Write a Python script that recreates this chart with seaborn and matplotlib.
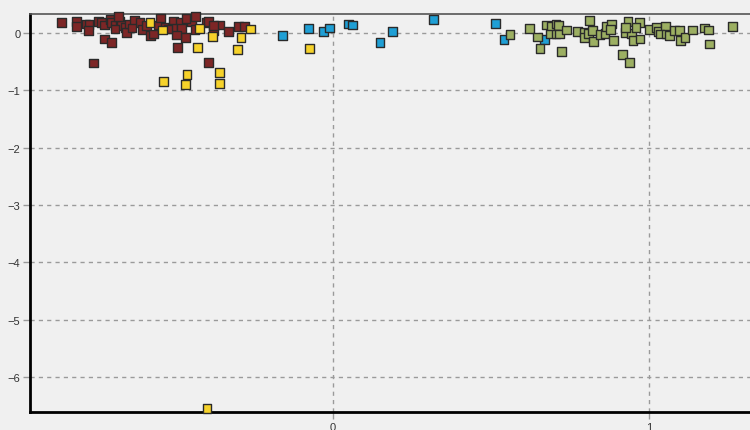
import numpy as np
import pandas as pd
import matplotlib
matplotlib.use("Agg")
import matplotlib.pyplot as plt
from matplotlib.ticker import MultipleLocator
import seaborn as sns

# Group A (dark red)
a_x = [-0.859, -0.813, -0.811, -0.782, -0.772, -0.773, -0.741, -0.732, -0.722, -0.706,
       -0.700, -0.690, -0.674, -0.669, -0.690, -0.658, -0.653, -0.645, -0.627, -0.611,
       -0.602, -0.590, -0.577, -0.569, -0.553, -0.529, -0.505, -0.484, -0.507, -0.479,
       -0.468, -0.495, -0.447, -0.437, -0.400, -0.395, -0.379, -0.358, -0.379, -0.331,
       -0.300, -0.281, -0.722, -0.700, -0.491, -0.759, -0.393,
       -0.680, -0.547, -0.434, -0.636, -0.522, -0.465]
a_y = [0.175, 0.197, 0.117, 0.157, 0.145, 0.040, 0.197, 0.187, 0.140, 0.232,
       0.175, 0.127, 0.197, 0.127, 0.070, 0.099, 0.012, 0.157, 0.215, 0.175,
       0.058, 0.127, -0.047, -0.017, 0.140, 0.099, 0.197, 0.187, 0.082, 0.082,
       -0.075, -0.035, 0.197, 0.058, 0.175, 0.197, 0.040, 0.140, 0.127, 0.030,
       0.110, 0.110, -0.105, -0.162, -0.249, -0.524, -0.511,
       0.280, 0.260, 0.280, 0.087, 0.070, 0.245]

# Group B (yellow)
b_x = [-0.579, -0.539, -0.423, -0.382, -0.260, -0.291, -0.429, -0.302, -0.536, -0.462,
       -0.466, -0.360, -0.358, -0.075, -0.399]
b_y = [0.175, 0.052, 0.082, -0.065, 0.070, -0.075, -0.249, -0.291, -0.850, -0.728,
       -0.895, -0.686, -0.878, -0.274, -6.545]

# Group C (blue)
c_x = [-0.159, -0.078, -0.031, -0.012, 0.048, 0.061, 0.149, 0.189, 0.317, 0.514,
       0.541, 0.669]
c_y = [-0.047, 0.075, 0.030, 0.087, 0.157, 0.140, -0.169, 0.030, 0.232, 0.162,
       -0.117, -0.117]

# Group D (green)
d_x = [0.560, 0.623, 0.648, 0.655, 0.676, 0.692, 0.706, 0.713, 0.689, 0.706,
       0.718, 0.740, 0.724, 0.773, 0.795, 0.811, 0.797, 0.808, 0.824, 0.822,
       0.845, 0.861, 0.866, 0.882, 0.889, 0.879, 0.916, 0.938, 0.924, 0.934,
       0.945, 0.950, 0.969, 0.972, 0.959, 0.927, 1.003, 1.024, 1.029, 1.053,
       1.035, 1.056, 1.066, 1.082, 1.096, 1.101, 1.114, 1.138, 1.175, 1.188,
       1.193, 1.264]
d_y = [-0.023, 0.082, -0.070, -0.267, 0.140, 0.117, 0.157, 0.127, -0.017, -0.017,
       -0.017, 0.052, -0.326, 0.030, 0.012, 0.215, -0.075, -0.005, -0.145, 0.040,
       -0.030, -0.005, 0.117, 0.157, -0.134, 0.058, -0.379, -0.511, 0.012, 0.197,
       -0.005, -0.134, 0.175, -0.105, 0.099, 0.099, 0.058, 0.099, 0.030, 0.117,
       -0.017, -0.017, -0.047, 0.040, 0.040, -0.134, -0.075, 0.052, 0.087, 0.052,
       -0.192, 0.117]

groups = ["A", "B", "C", "D"]
colors = ["#7d2626", "#f6d22a", "#1f9fd5", "#9caf62"]

df = pd.concat([
    pd.DataFrame({"x": a_x, "y": a_y, "g": "A"}),
    pd.DataFrame({"x": b_x, "y": b_y, "g": "B"}),
    pd.DataFrame({"x": c_x, "y": c_y, "g": "C"}),
    pd.DataFrame({"x": d_x, "y": d_y, "g": "D"}),
], ignore_index=True)

sns.set_theme(style="white")
plt.rcParams["font.family"] = ["Liberation Sans", "DejaVu Sans"]

bg = "#f0f0f0"
fig = plt.figure(figsize=(7.5, 4.31), dpi=100, facecolor=bg)
ax = fig.add_axes([0.04, 0.0418, 0.96, 0.9234])
ax.set_facecolor(bg)

sns.scatterplot(data=df, x="x", y="y", hue="g", hue_order=groups,
                palette=dict(zip(groups, colors)), marker="s", s=40,
                edgecolor="#2a2a2a", linewidth=1.0, legend=False, ax=ax,
                zorder=3, clip_on=False)

ax.set_xlim(-0.959, 1.32)
ax.set_ylim(-6.61, 0.33)

ax.xaxis.set_major_locator(MultipleLocator(1))
ax.xaxis.set_minor_locator(MultipleLocator(0.25))
ax.yaxis.set_major_locator(MultipleLocator(1))
ax.yaxis.set_minor_locator(MultipleLocator(0.25))

ax.grid(True, which="major", color="#9a9a9a", linestyle=(0, (3, 3)), linewidth=1.0)
ax.set_axisbelow(True)

ax.tick_params(axis="both", which="major", direction="out", length=5,
               width=1, color="#9a9a9a", labelsize=8, labelcolor="#333333", pad=2)
ax.tick_params(axis="both", which="minor", direction="in", length=3,
               width=1, color="#555555")
ax.tick_params(axis="y", which="major", left=True)
ax.tick_params(axis="x", which="major", bottom=True)

ax.set_xlabel("")
ax.set_ylabel("")

for side in ["left", "bottom"]:
    ax.spines[side].set_visible(True)
    ax.spines[side].set_color("black")
    ax.spines[side].set_linewidth(2)
ax.spines["top"].set_visible(True)
ax.spines["top"].set_color("#555555")
ax.spines["top"].set_linewidth(1.2)
ax.spines["right"].set_visible(False)

fig.savefig("out.png", dpi=100, facecolor=bg)
